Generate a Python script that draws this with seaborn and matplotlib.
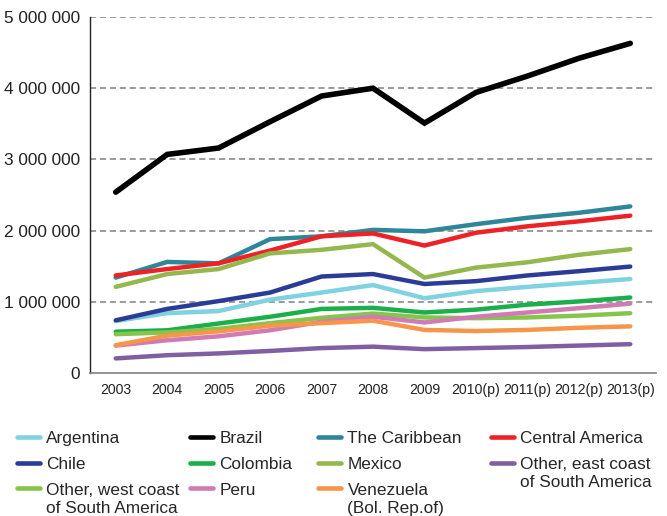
import matplotlib
matplotlib.use("Agg")
import matplotlib.pyplot as plt
import seaborn as sns
import pandas as pd
from matplotlib.lines import Line2D
from matplotlib.ticker import FixedLocator, FuncFormatter

years = ["2003", "2004", "2005", "2006", "2007", "2008", "2009",
         "2010(p)", "2011(p)", "2012(p)", "2013(p)"]

argentina = [730000, 840000, 870000, 1030000, 1130000, 1235000, 1050000, 1150000, 1210000, 1265000, 1320000]
brazil = [2540000, 3070000, 3160000, 3530000, 3890000, 4000000, 3510000, 3940000, 4170000, 4420000, 4630000]
caribbean = [1340000, 1560000, 1540000, 1880000, 1920000, 2010000, 1990000, 2090000, 2180000, 2250000, 2340000]
central_america = [1370000, 1460000, 1540000, 1720000, 1920000, 1960000, 1790000, 1970000, 2060000, 2130000, 2210000]
chile = [740000, 900000, 1010000, 1130000, 1355000, 1390000, 1250000, 1290000, 1370000, 1430000, 1495000]
colombia = [580000, 600000, 695000, 790000, 900000, 915000, 850000, 890000, 960000, 1005000, 1060000]
mexico = [1210000, 1390000, 1460000, 1680000, 1730000, 1810000, 1340000, 1480000, 1555000, 1660000, 1740000]
other_east = [205000, 250000, 275000, 310000, 350000, 370000, 335000, 350000, 365000, 385000, 405000]
other_west = [545000, 570000, 620000, 700000, 775000, 835000, 780000, 770000, 780000, 805000, 840000]
peru = [385000, 460000, 515000, 600000, 720000, 790000, 710000, 790000, 850000, 910000, 975000]
venezuela = [390000, 525000, 585000, 665000, 700000, 735000, 605000, 590000, 605000, 635000, 655000]

series_names = ["Argentina", "Brazil", "The Caribbean", "Central America", "Chile",
                "Colombia", "Mexico", "Other, east coast\nof South America",
                "Other, west coast\nof South America", "Peru", "Venezuela\n(Bol. Rep.of)"]
series_values = [argentina, brazil, caribbean, central_america, chile, colombia,
                 mexico, other_east, other_west, peru, venezuela]
colors = ["#7FD2DF", "#000000", "#2E8699", "#EE2226", "#2B3C97", "#1BAF4B",
          "#93B84E", "#7F5EA1", "#86C54B", "#D07BB4", "#F7964A"]

y_ticks = [0, 1000000, 2000000, 3000000, 4000000, 5000000]

rows = []
for name, vals in zip(series_names, series_values):
    for yr, v in zip(years, vals):
        rows.append({"Year": yr, "Value": v, "Series": name})
df = pd.DataFrame(rows)

sns.set_style("white")
plt.rcParams["font.family"] = ["Liberation Sans", "DejaVu Sans"]

W, H = 667, 516
fig = plt.figure(figsize=(W / 100, H / 100), dpi=100)
ax = fig.add_axes([90 / W, 1 - 373 / H, (656 - 90) / W, (373 - 17) / H])

for i, (name, col) in enumerate(zip(series_names, colors)):
    sub = df[df["Series"] == name]
    lw = 4.0 if name == "Brazil" else 3.2
    sns.lineplot(data=sub, x="Year", y="Value", color=col, linewidth=lw,
                 sort=False, ax=ax, legend=False, zorder=3 + i)
for ln in ax.lines:
    ln.set_solid_capstyle("round")
    ln.set_solid_joinstyle("miter")

ax.set_xlim(-0.5, len(years) - 0.5)
ax.set_ylim(0, 5000000)
ax.set_xticks(range(len(years)))
ax.set_xticklabels(years)
ax.xaxis.set_minor_locator(FixedLocator([i - 0.5 for i in range(len(years) + 1)]))
ax.tick_params(axis="x", which="major", length=0, pad=7, labelsize=10.2, colors="#222222")
ax.tick_params(axis="x", which="minor", length=5, width=1, color="#808080", direction="out")
ax.set_yticks(y_ticks)
ax.yaxis.set_major_formatter(FuncFormatter(lambda v, p: f"{int(v):,}".replace(",", " ")))
ax.tick_params(axis="y", length=0, pad=7, labelsize=12.4, colors="#222222")
ax.set_xlabel("")
ax.set_ylabel("")

for t in y_ticks[1:]:
    ax.axhline(t, color="#808080", linestyle=(0, (4, 2.5)), linewidth=1.1, zorder=1)

for s in ["top", "right"]:
    ax.spines[s].set_visible(False)
ax.spines["left"].set_color("#222222")
ax.spines["left"].set_linewidth(1.0)
ax.spines["bottom"].set_color("#808080")
ax.spines["bottom"].set_linewidth(1.2)

# legend: four columns, each its own legend, placed like the original
columns = [[0, 4, 8], [1, 5, 9], [2, 6, 10], [3, 7]]
col_x = [17, 190, 318, 491]
fs = 12.4
legends = []
for cols, x0 in zip(columns, col_x):
    handles = [Line2D([0], [0], color=colors[i], linewidth=3.3, solid_capstyle="round")
               for i in cols]
    labels = [series_names[i].split("\n")[0] for i in cols]
    leg = fig.legend(handles, labels, loc="upper left",
                     bbox_to_anchor=(x0 / W, 1 - 431 / H),
                     frameon=False, fontsize=fs, handlelength=1.31, handletextpad=0.4,
                     labelspacing=0.62, borderaxespad=0, borderpad=0)
    legends.append((leg, cols))

fig.canvas.draw()
renderer = fig.canvas.get_renderer()
for leg, cols in legends:
    for txt, i in zip(leg.get_texts(), cols):
        parts = series_names[i].split("\n")
        if len(parts) > 1:
            bb = txt.get_window_extent(renderer)
            yc = (bb.y0 + bb.y1) / 2 - 18
            fig.text(bb.x0 / W, yc / H, parts[1], fontsize=fs, va="center", ha="left",
                     color=txt.get_color())

fig.savefig("out.png", dpi=100)
